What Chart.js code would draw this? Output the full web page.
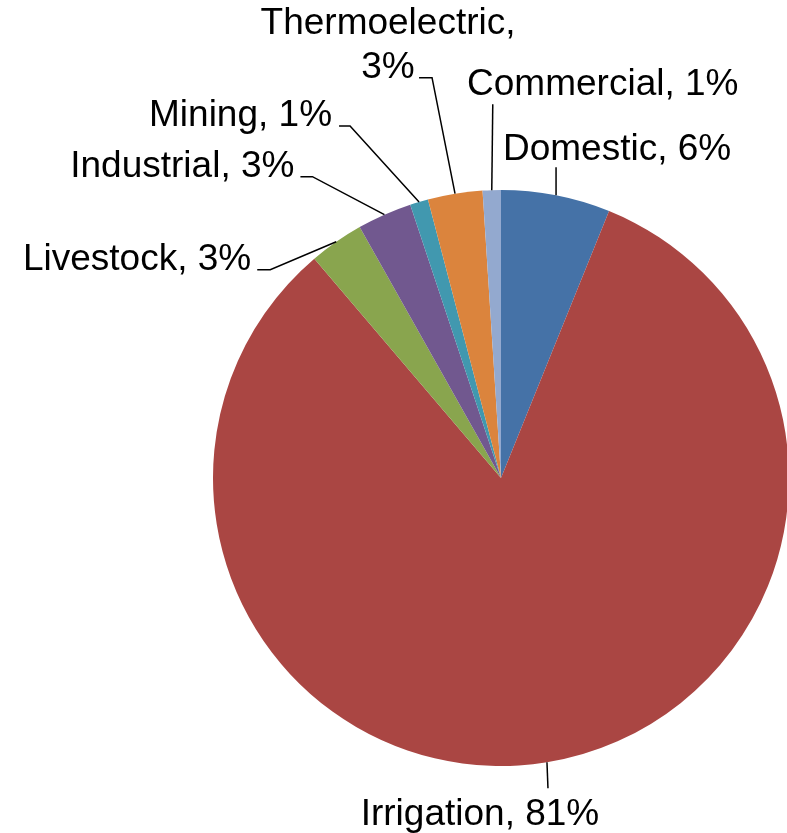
<!DOCTYPE html>
<html>
<head>
<meta charset="utf-8">
<title>Water use by category</title>
<script src="https://cdn.jsdelivr.net/npm/chart.js@4.4.1/dist/chart.umd.min.js"></script>
<style>
  html, body { margin: 0; padding: 0; background: #fff; overflow: hidden; }
  #wrap { width: 800px; height: 833px; }
</style>
</head>
<body>
<div id="wrap"><canvas id="grafico" width="800" height="833"></canvas></div>
<script>
// categorias y porcentajes (en sentido horario desde arriba)
const categorias = ["Domestic", "Irrigation", "Livestock", "Industrial", "Mining", "Thermoelectric", "Commercial"]
const porcentajes = [6, 81, 3, 3, 1, 3, 1]
const colores = ["#4572A7", "#AA4643", "#89A54E", "#71588F", "#4198AF", "#DB843D", "#93A9CF"]

// lineas guia y etiquetas, relativas al punto medio del arco de cada porcion
const guias = {
    Domestic:       { puntos: [[0, -28]], texto: [61, -35], align: "center" },
    Irrigation:     { puntos: [[1, 26]], texto: [-67, 63], align: "center" },
    Livestock:      { puntos: [[-66, 28], [-79, 28]], texto: [-85, 28], align: "right" },
    Industrial:     { puntos: [[-72, -38], [-84, -38]], texto: [-90, -38], align: "right" },
    Mining:         { puntos: [[-69, -76], [-80, -76]], texto: [-87, -76], align: "right" },
    Thermoelectric: { puntos: [[-23, -116], [-36, -116]], texto: [-67, -116], align: "center", partir: true },
    Commercial:     { puntos: [[1, -86]], texto: [111, -95], align: "center" }
}

const etiquetasPlugin = {
    id: "etiquetas",
    afterDraw(chart) {
        const ctx = chart.ctx
        const meta = chart.getDatasetMeta(0)
        ctx.save()
        ctx.strokeStyle = "#000"
        ctx.lineWidth = 1.5
        ctx.fillStyle = "#000"
        ctx.font = "37px 'Liberation Sans', Arial, sans-serif"
        ctx.textBaseline = "alphabetic"
        meta.data.forEach((arc, i) => {
            const nombre = categorias[i]
            const g = guias[nombre]
            const medio = (arc.startAngle + arc.endAngle) / 2
            const ax = arc.x + arc.outerRadius * Math.cos(medio)
            const ay = arc.y + arc.outerRadius * Math.sin(medio)

            ctx.beginPath()
            ctx.moveTo(ax, ay)
            g.puntos.forEach(p => ctx.lineTo(ax + p[0], ay + p[1]))
            ctx.stroke()

            ctx.textAlign = g.align
            const tx = ax + g.texto[0]
            const ty = ay + g.texto[1]
            if (g.partir) {
                ctx.fillText(`${nombre},`, tx, ty - 44)
                ctx.fillText(`${porcentajes[i]}%`, tx, ty)
            } else {
                ctx.fillText(`${nombre}, ${porcentajes[i]}%`, tx, ty)
            }
        })
        ctx.restore()
    }
}

const config = {
    type: "pie",
    data: {
        labels: categorias,
        datasets: [{
            data: porcentajes,
            backgroundColor: colores,
            borderWidth: 0,
            hoverOffset: 0,
            offset: 0
        }]
    },
    options: {
        responsive: false,
        devicePixelRatio: 1,
        animation: false,
        layout: { padding: { left: 213, right: 11, top: 190, bottom: 67 } },
        plugins: {
            legend: { display: false },
            tooltip: { enabled: false }
        }
    },
    plugins: [etiquetasPlugin]
}

new Chart(document.getElementById("grafico"), config)
</script>
</body>
</html>
